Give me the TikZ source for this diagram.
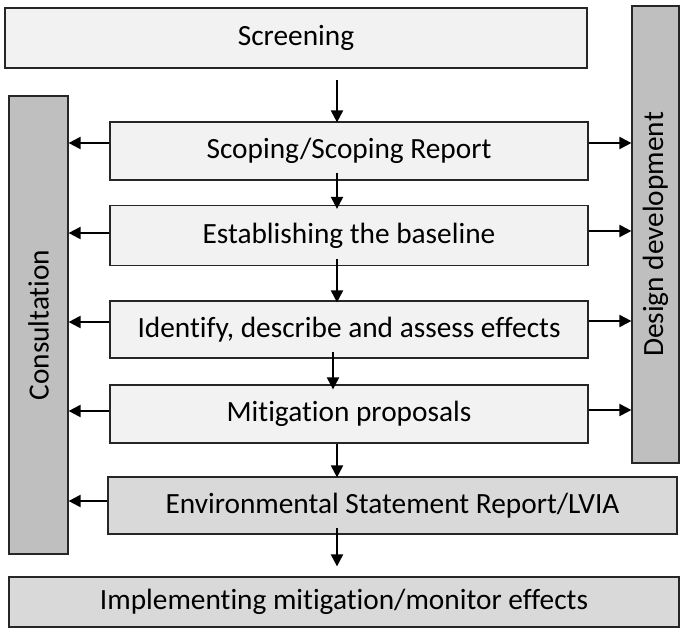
\documentclass[tikz,border=0pt]{standalone}
\usepackage{fontspec}
\setmainfont{Carlito}[Ligatures=NoCommon]
\usetikzlibrary{arrows.meta,calc}
\definecolor{lightfill}{HTML}{F2F2F2}
\definecolor{midfill}{HTML}{D9D9D9}
\definecolor{darkfill}{HTML}{BFBFBF}
\begin{document}
\begin{tikzpicture}[x=0.75pt,y=-0.75pt,
  box/.style={draw=black!85, line width=0.9pt, inner sep=0pt, align=center,
    font=\fontsize{22}{26}\selectfont},
  light/.style={box, fill=lightfill},
  mid/.style={box, fill=midfill},
  dark/.style={box, fill=darkfill},
  arr/.style={line width=1.5pt, -{Triangle[length=9pt,width=9pt]}}
]
\useasboundingbox (0,0) rectangle (681,632);
\node[light, minimum width=582*0.75pt, minimum height=60*0.75pt] (screen) at (296,38) {Screening};
\node[light, minimum width=478*0.75pt, minimum height=58*0.75pt] (scop) at (349,151) {Scoping/Scoping Report};
\node[light, minimum width=478*0.75pt, minimum height=60*0.75pt] (est) at (349,235.5) {Establishing the baseline};
\node[light, minimum width=478*0.75pt, minimum height=57*0.75pt] (ident) at (349,329.5) {Identify, describe and assess effects};
\node[light, minimum width=478*0.75pt, minimum height=58*0.75pt] (mitig) at (349,414) {Mitigation proposals};
\node[mid, minimum width=569*0.75pt, minimum height=57*0.75pt] (env) at (392.5,505.5) {Environmental Statement Report/LVIA};
\node[mid, minimum width=670*0.75pt, minimum height=50*0.75pt] (impl) at (344,602) {Implementing mitigation/monitor effects};
\node[dark, rotate=90, minimum width=458*0.75pt, minimum height=59*0.75pt] (cons) at (38.5,325) {Consultation};
\node[dark, rotate=90, minimum width=457*0.75pt, minimum height=47*0.75pt] (design) at (655.5,234.5) {Design development};
% vertical arrows
\coordinate (ax) at (337,0);
\coordinate (bx) at (333,0);
\draw[arr] ($(screen.south -| ax)+(0,11)$) -- ($(scop.north -| ax)+(0,1)$);
\draw[arr] ($(scop.south -| ax)+(0,-8)$) -- ($(est.north -| ax)+(0,4)$);
\draw[arr] ($(est.south -| ax)+(0,-7)$) -- ($(ident.north -| ax)+(0,2)$);
\draw[arr] ($(ident.south -| bx)+(0,-7)$) -- ($(mitig.north -| bx)+(0,5)$);
\draw[arr] (mitig.south -| ax) -- ($(env.north -| ax)+(0,1)$);
\draw[arr] ($(env.south -| ax)+(0,-7)$) -- ($(impl.north -| ax)+(0,-10)$);
% left arrows
\draw[arr] (scop.west |- 0,143) -- (cons.south |- 0,143);
\draw[arr] (est.west |- 0,233) -- (cons.south |- 0,233);
\draw[arr] (ident.west |- 0,322) -- (cons.south |- 0,322);
\draw[arr] (mitig.west |- 0,411) -- (cons.south |- 0,411);
\draw[arr] (env.west |- 0,501) -- (cons.south |- 0,501);
% right arrows
\draw[arr] (scop.east |- 0,143) -- (design.north |- 0,143);
\draw[arr] (est.east |- 0,231) -- (design.north |- 0,231);
\draw[arr] (ident.east |- 0,321) -- (design.north |- 0,321);
\draw[arr] (mitig.east |- 0,410) -- (design.north |- 0,410);
\end{tikzpicture}
\end{document}
